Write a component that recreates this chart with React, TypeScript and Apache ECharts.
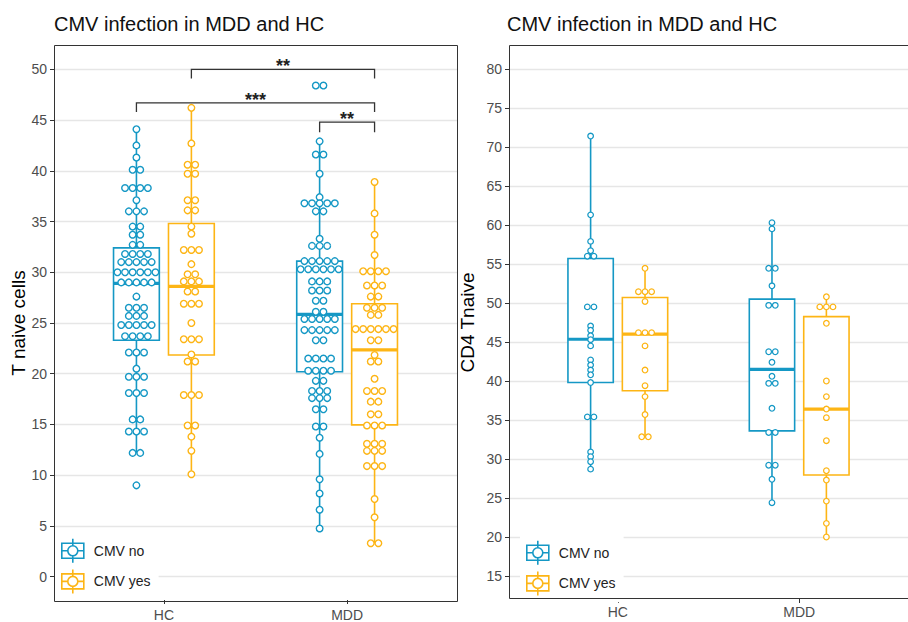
import React, { useEffect, useRef } from 'react';
import * as echarts from 'echarts';

const BLUE = '#1598c5';
const ORANGE = '#fdb515';
const COLORS = [BLUE, ORANGE];
const GROUPS = ['HC', 'MDD'];
const SUBGROUPS = ['CMV no', 'CMV yes'];
const TITLE = 'CMV infection in MDD and HC';
const LEFT_Y_NAME = 'T naive cells';
const RIGHT_Y_NAME = 'CD4 Tnaive';
const FONT = 'Liberation Sans, Arial, Helvetica, sans-serif';

// ---------- Left panel: individual dots ----------
const leftHcNo = [
  44.1, 42.5, 41.3, 40.1, 40.1,
  38.3, 38.3, 38.3, 38.3, 37.1, 36.0, 36.0, 36.0,
  34.5, 34.5, 33.7, 33.7, 32.7, 32.7,
  31.8, 31.8, 31.8, 31.8, 31.0, 31.0, 31.0, 31.0, 31.0,
  30.0, 30.0, 30.0, 30.0, 30.0, 30.0,
  29.0, 29.0, 29.0, 29.0, 29.0, 27.6,
  26.5, 26.5, 26.5, 25.7, 25.7, 25.7,
  24.8, 24.8, 24.8, 24.8, 24.8, 23.7, 23.7, 23.7, 23.7,
  22.1, 22.1, 22.1, 20.5, 19.7, 19.7, 19.7, 18.1, 18.1, 18.1,
  15.5, 15.5, 14.3, 14.3, 14.3, 12.2, 12.2, 9.0,
];
const leftHcYes = [
  46.2, 42.7, 40.6, 40.6, 39.7, 39.7, 37.1, 37.1, 36.1, 36.1,
  34.5, 33.8, 32.2, 32.2, 32.2, 30.8, 29.8, 29.8, 29.1, 29.1, 29.1,
  28.1, 28.1, 26.9, 26.9, 26.9, 25.0, 23.4, 23.4, 23.4,
  21.9, 21.2, 21.2, 17.9, 17.9, 17.9, 14.9, 14.9, 13.8, 12.4, 10.1,
];
const leftMddNo = [
  48.4, 48.4, 42.9, 41.6, 41.6, 39.7, 37.4,
  36.8, 36.8, 36.8, 36.8, 36.8, 36.0, 36.0,
  33.3, 32.6, 32.6, 32.6,
  31.1, 31.1, 31.1, 31.1, 31.1,
  30.3, 30.3, 30.3, 30.3, 30.3, 30.3,
  29.1, 29.1, 29.1, 28.2, 28.2, 28.2, 27.2, 27.2,
  26.1, 26.1, 25.4, 25.4, 25.4, 25.4, 25.4,
  24.3, 24.3, 24.3, 24.3, 24.3, 23.3, 23.3,
  21.5, 21.5, 21.5, 21.5, 20.3, 20.3, 20.3, 20.3,
  19.3, 19.3, 18.3, 18.3, 18.3, 17.6, 17.6, 17.6,
  16.5, 16.5, 14.8, 14.8, 13.7, 12.1, 9.6, 8.2, 6.6, 4.75,
];
const leftMddYes = [
  38.9, 35.8, 33.7, 31.7,
  30.1, 30.1, 30.1, 30.1,
  28.7, 28.7, 28.7, 27.6, 27.6,
  26.5, 26.5, 26.5, 25.8, 25.8,
  24.4, 24.4, 24.4, 24.4, 24.4, 24.4,
  23.3, 23.3, 21.85, 21.2, 21.2, 19.5,
  18.3, 18.3, 18.3, 17.25, 17.25, 16.0, 16.0,
  14.9, 14.9, 14.9, 13.1, 13.1, 13.1, 12.4, 12.4, 12.4,
  10.9, 10.9, 10.9, 7.65, 5.85, 3.3, 3.3,
];

// ---------- Right panel: individual dots ----------
const rightHcNo = [
  71.4, 61.3, 57.9, 56.7, 56.0, 56.0, 49.5, 49.5, 47.05, 46.5, 45.8, 45.3, 44.5,
  42.7, 42.05, 41.4, 40.8, 39.8, 35.4, 35.4, 30.9, 30.3, 29.65, 28.7,
];
const rightHcYes = [
  54.45, 51.45, 51.45, 51.45, 50.2, 46.2, 46.2, 46.2, 44.5, 41.4, 39.4, 38.0, 35.7, 32.85, 32.85,
];
const rightMddNo = [
  60.3, 59.5, 54.45, 54.45, 52.2, 49.7, 49.7, 43.75, 43.75, 42.4, 40.6, 39.7, 39.7,
  36.5, 33.4, 33.4, 29.2, 29.2, 27.4, 24.4,
];
const rightMddYes = [
  50.8, 49.5, 49.5, 49.5, 47.4, 40.0, 38.0, 36.4, 35.3, 32.35, 28.5, 27.3, 24.6, 21.75, 20.0,
];

// ---------- Box statistics: [lower whisker, Q1, median, Q3, upper whisker] per group (HC, MDD) ----------
const leftBoxNo = [[12.2, 23.3, 28.9, 32.4, 44.1], [4.75, 20.2, 25.85, 31.1, 42.9]];
const leftBoxYes = [[10.1, 21.85, 28.6, 34.8, 46.2], [3.3, 14.96, 22.35, 26.9, 38.9]];
const rightBoxNo = [[28.7, 39.8, 45.35, 55.7, 71.4], [24.4, 33.6, 41.5, 50.5, 60.3]];
const rightBoxYes = [[32.85, 38.75, 46.0, 50.7, 54.45], [20.0, 27.95, 36.4, 48.25, 50.8]];

// ---------- Significance brackets (left panel) ----------
// [groupFrom, subFrom, groupTo, subTo, line value, tick end value]
const bracketSpans = [
  [0, 1, 1, 1, 50.0, 49.1],
  [0, 0, 1, 1, 46.7, 45.8],
  [1, 0, 1, 1, 44.8, 43.8],
];
const bracketLabels = ['**', '***', '**'];

// y axes
const leftY = { min: 0, max: 50, interval: 5 };
const rightY = { min: 15, max: 80, interval: 5 };

const DODGE = 0.15;
const BOX_W = 0.25;
const X_MIN = 0.4;
const X_MAX = 2.6;
const xPos = (g: number, s: number) => g + 1 + (s === 0 ? -DODGE : DODGE);

function stackDots(values: number[], x: number) {
  const counts = new Map<number, number>();
  const seen = new Map<number, number>();
  values.forEach((v) => counts.set(v, (counts.get(v) || 0) + 1));
  return values.map((v) => {
    const n = counts.get(v) || 1;
    const i = seen.get(v) || 0;
    seen.set(v, i + 1);
    return [x, v, i - (n - 1) / 2];
  });
}

const ICON =
  'path://M0 4.5H22V19.5H0Z M11 0V7 M11 17V24 M0 12H6 M16 12H22 M16 12A5 5 0 1 1 6 12A5 5 0 1 1 16 12Z';

function buildPanelSeries(
  p: number,
  boxes: number[][][],
  dots: number[][][],
  dotR: number,
  spacing: number,
  dotLw: number
) {
  const series: any[] = [];
  for (let s = 0; s < 2; s++) {
    const color = COLORS[s];
    series.push({
      type: 'custom',
      name: SUBGROUPS[s],
      xAxisIndex: p,
      yAxisIndex: p,
      clip: false,
      silent: true,
      itemStyle: { color },
      encode: { x: 0, y: [1, 2, 3, 4, 5] },
      data: boxes[s].map((b, g) => [xPos(g, s), ...b]),
      renderItem: (params: any, api: any) => {
        const x = api.value(0);
        const lo = api.coord([x, api.value(1)]);
        const q1 = api.coord([x, api.value(2)]);
        const md = api.coord([x, api.value(3)]);
        const q3 = api.coord([x, api.value(4)]);
        const hi = api.coord([x, api.value(5)]);
        const half = api.size([BOX_W, 0])[0] / 2;
        const ls = { stroke: color, lineWidth: 1.6 };
        return {
          type: 'group',
          children: [
            { type: 'line', shape: { x1: lo[0], y1: lo[1], x2: q1[0], y2: q1[1] }, style: ls },
            { type: 'line', shape: { x1: q3[0], y1: q3[1], x2: hi[0], y2: hi[1] }, style: ls },
            {
              type: 'rect',
              shape: { x: q3[0] - half, y: q3[1], width: 2 * half, height: q1[1] - q3[1] },
              style: { fill: '#fff', stroke: color, lineWidth: 1.6 },
            },
            {
              type: 'line',
              shape: { x1: md[0] - half, y1: md[1], x2: md[0] + half, y2: md[1] },
              style: { stroke: color, lineWidth: 3.2 },
            },
          ],
        };
      },
    });
  }
  for (let s = 0; s < 2; s++) {
    const color = COLORS[s];
    const data: number[][] = [];
    for (let g = 0; g < 2; g++) data.push(...stackDots(dots[g][s], xPos(g, s)));
    series.push({
      type: 'custom',
      name: SUBGROUPS[s],
      xAxisIndex: p,
      yAxisIndex: p,
      clip: false,
      silent: true,
      itemStyle: { color },
      encode: { x: 0, y: 1 },
      data,
      renderItem: (params: any, api: any) => {
        const c = api.coord([api.value(0), api.value(1)]);
        return {
          type: 'circle',
          shape: { cx: c[0] + api.value(2) * spacing, cy: c[1], r: dotR },
          style: { fill: '#fff', stroke: color, lineWidth: dotLw },
        };
      },
    });
  }
  return series;
}

function yAxisFor(p: number, cfg: any, name: string, nameGap: number) {
  return {
    type: 'value',
    gridIndex: p,
    min: cfg.min,
    max: cfg.max,
    interval: cfg.interval,
    name,
    nameLocation: 'middle',
    nameGap,
    nameTextStyle: { fontSize: 19, color: '#000', fontFamily: FONT },
    axisLine: { show: false },
    axisTick: { show: true, length: 4, lineStyle: { color: '#333', width: 1 } },
    axisLabel: { color: '#4d4d4d', fontSize: 14, margin: 7, fontFamily: FONT },
    splitLine: { show: true, lineStyle: { color: '#e6e6e6', width: 1.3 } },
  };
}

// hidden x axis used for placing the data
function dataXAxis(p: number) {
  return { type: 'value', gridIndex: p, min: X_MIN, max: X_MAX, show: false, splitLine: { show: false } };
}

// visible x axis on a grid spanning the whole panel (same horizontal extent)
function shownXAxis(p: number, margin: number) {
  return {
    type: 'value',
    gridIndex: p,
    min: X_MIN,
    max: X_MAX,
    axisLine: { show: false },
    splitLine: { show: false },
    axisTick: { show: true, customValues: [1, 2], length: 4, lineStyle: { color: '#333', width: 1 } },
    axisLabel: {
      customValues: [1, 2],
      formatter: (v: number) => GROUPS[Math.round(v) - 1] || '',
      color: '#4d4d4d',
      fontSize: 14,
      margin,
      fontFamily: FONT,
    },
  };
}

function legendFor(left: number, top: number) {
  return {
    left,
    top,
    orient: 'vertical',
    padding: [6, 8, 6, 6],
    itemGap: 5,
    itemWidth: 32,
    itemHeight: 24,
    backgroundColor: '#fff',
    selectedMode: false,
    textStyle: { fontSize: 14, color: '#222', fontFamily: FONT },
    data: SUBGROUPS.map((n, i) => ({
      name: n,
      icon: ICON,
      itemStyle: { color: '#fff', borderColor: COLORS[i], borderWidth: 1.6 },
    })),
  };
}

export default function App() {
  const ref = useRef<HTMLDivElement>(null);
  useEffect(() => {
    document.body.style.margin = '0';
    if (!ref.current) return;
    const chart = echarts.init(ref.current, undefined, { renderer: 'svg' });

    const leftDots = [
      [leftHcNo, leftHcYes],
      [leftMddNo, leftMddYes],
    ];
    const rightDots = [
      [rightHcNo, rightHcYes],
      [rightMddNo, rightMddYes],
    ];

    const bracketSeries = {
      type: 'custom',
      name: 'brackets',
      xAxisIndex: 0,
      yAxisIndex: 0,
      clip: false,
      silent: true,
      encode: { x: [0, 1], y: [2, 3] },
      data: bracketSpans.map((b) => [xPos(b[0], b[1]), xPos(b[2], b[3]), b[4], b[5]]),
      renderItem: (params: any, api: any) => {
        const x1 = api.value(0);
        const x2 = api.value(1);
        const yl = api.value(2);
        const yt = api.value(3);
        const a = api.coord([x1, yt]);
        const b = api.coord([x1, yl]);
        const c = api.coord([x2, yl]);
        const d = api.coord([x2, yt]);
        return {
          type: 'group',
          children: [
            {
              type: 'polyline',
              shape: { points: [a, b, c, d] },
              style: { stroke: '#333', lineWidth: 1.3, fill: 'none' },
            },
            {
              type: 'text',
              style: {
                text: bracketLabels[params.dataIndex],
                x: (b[0] + c[0]) / 2,
                y: b[1] - 3,
                textAlign: 'center',
                textVerticalAlign: 'middle',
                fontSize: 18,
                fontWeight: 'bold',
                fill: '#222',
                fontFamily: FONT,
              },
            },
          ],
        };
      },
    };

    const option: any = {
      animation: false,
      textStyle: { fontFamily: FONT },
      title: [
        { text: TITLE, left: 54, top: 14, padding: 0, textStyle: { fontSize: 20, fontWeight: 'normal', color: '#111', fontFamily: FONT } },
        { text: TITLE, left: 507, top: 14, padding: 0, textStyle: { fontSize: 20, fontWeight: 'normal', color: '#111', fontFamily: FONT } },
      ],
      grid: [
        { left: 54, top: 69.3, width: 403, height: 507.4 },
        { left: 509, top: 69, width: 409, height: 507 },
        { left: 54, top: 45, width: 403, height: 556.7 },
        { left: 509, top: 45, width: 409, height: 554 },
      ],
      xAxis: [dataXAxis(0), dataXAxis(1), shownXAxis(2, 8), shownXAxis(3, 6)],
      yAxis: [
        yAxisFor(0, leftY, LEFT_Y_NAME, 26),
        yAxisFor(1, rightY, RIGHT_Y_NAME, 32),
        { type: 'value', gridIndex: 2, min: 0, max: 1, show: false, splitLine: { show: false } },
        { type: 'value', gridIndex: 3, min: 0, max: 1, show: false, splitLine: { show: false } },
      ],
      legend: [legendFor(55, 532), legendFor(520, 534)],
      graphic: [
        { type: 'rect', z: 100, silent: true, shape: { x: 54.5, y: 45.5, width: 403, height: 556 }, style: { fill: 'none', stroke: '#333', lineWidth: 1 } },
        { type: 'rect', z: 100, silent: true, shape: { x: 509.5, y: 45.5, width: 420, height: 553 }, style: { fill: 'none', stroke: '#333', lineWidth: 1 } },
      ],
      series: [
        ...buildPanelSeries(0, [leftBoxNo, leftBoxYes], leftDots, 3.3, 7.6, 1.4),
        ...buildPanelSeries(1, [rightBoxNo, rightBoxYes], rightDots, 2.8, 6.6, 1.25),
        bracketSeries,
      ],
    };
    chart.setOption(option);
    return () => chart.dispose();
  }, []);
  return <div ref={ref} style={{ position: 'absolute', left: 0, top: 0, width: 908, height: 622 }} />;
}
